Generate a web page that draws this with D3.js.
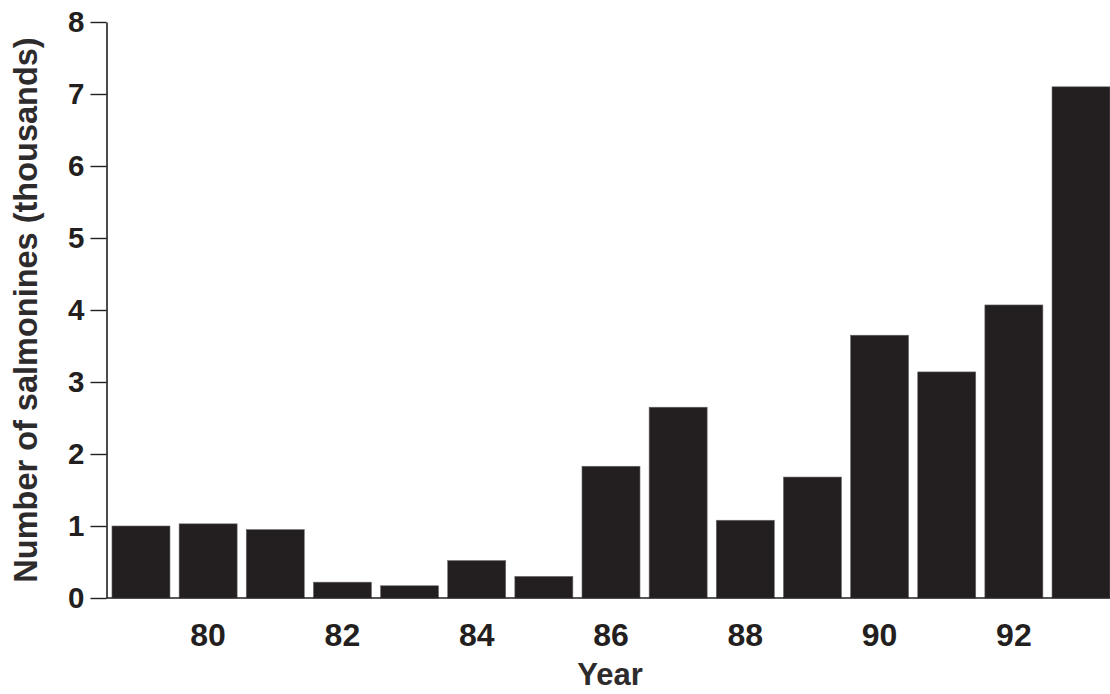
<!DOCTYPE html>
<html>
<head>
<meta charset="utf-8">
<script src="https://cdn.jsdelivr.net/npm/d3@7"></script>
<style>
  html, body { margin: 0; padding: 0; background: #fff; }
  svg { display: block; font-family: "Liberation Sans", Arial, Helvetica, sans-serif; font-weight: bold; }
</style>
</head>
<body>
<svg id="chart" width="1110" height="694"></svg>
<script>
const years = ["79","80","81","82","83","84","85","86","87","88","89","90","91","92","93"];
const values = [1.00, 1.03, 0.95, 0.22, 0.17, 0.52, 0.30, 1.83, 2.65, 1.08, 1.68, 3.65, 3.14, 4.07, 7.10];
const xTickLabels = ["80","82","84","86","88","90","92"];
const yTicks = [0,1,2,3,4,5,6,7,8];
const xTitle = "Year";
const yTitle = "Number of salmonines (thousands)";

const ink = "#231f20";
const svg = d3.select("#chart");
const axisX = 106.5, baseY = 598, topY = 22;

const x = d3.scaleBand().domain(years).range([107.4, 1114.6]).paddingInner(0.136).paddingOuter(0.068);
const y = d3.scaleLinear().domain([0, 8]).range([baseY, topY]);

// bars
svg.append("g").selectAll("rect").data(values).join("rect")
  .attr("x", (d, i) => x(years[i]))
  .attr("y", d => y(d))
  .attr("width", x.bandwidth())
  .attr("height", d => baseY - y(d))
  .attr("fill", ink)
  .attr("stroke", "#6d6a6b")
  .attr("stroke-width", 0.6);

// baseline
svg.append("line")
  .attr("x1", axisX).attr("x2", 1110)
  .attr("y1", baseY).attr("y2", baseY)
  .attr("stroke", ink).attr("stroke-width", 1.6);

// y axis
const yAxis = svg.append("g").attr("transform", `translate(${axisX},0)`)
  .call(d3.axisLeft(y).tickValues(yTicks).tickSize(16).tickSizeOuter(0).tickPadding(6).tickFormat(d3.format("d")));
yAxis.attr("font-size", null).attr("font-family", null);
yAxis.select(".domain").attr("stroke", ink).attr("stroke-width", 1.6);
yAxis.selectAll(".tick line").attr("stroke", ink).attr("stroke-width", 1.4);
yAxis.selectAll(".tick text").attr("fill", ink).style("font-size", "29.5px").style("font-weight", "bold")
  .style("font-family", '"Liberation Sans", Arial, sans-serif');

// x axis labels
const xAxis = svg.append("g").attr("transform", `translate(0,${baseY})`)
  .call(d3.axisBottom(x).tickValues(xTickLabels).tickSize(0).tickPadding(25));
xAxis.attr("font-size", null).attr("font-family", null);
xAxis.select(".domain").remove();
xAxis.selectAll(".tick text").attr("fill", ink).style("font-size", "32px").style("font-weight", "bold")
  .style("font-family", '"Liberation Sans", Arial, sans-serif');

// titles
svg.append("text")
  .attr("x", 610).attr("y", 685)
  .attr("text-anchor", "middle")
  .attr("fill", "#2e2b2c")
  .style("font-size", "31px")
  .text(xTitle);

svg.append("text")
  .attr("transform", "translate(37,310) rotate(-90)")
  .attr("text-anchor", "middle")
  .attr("fill", "#2e2b2c")
  .style("font-size", "32.5px")
  .text(yTitle);
</script>
</body>
</html>
